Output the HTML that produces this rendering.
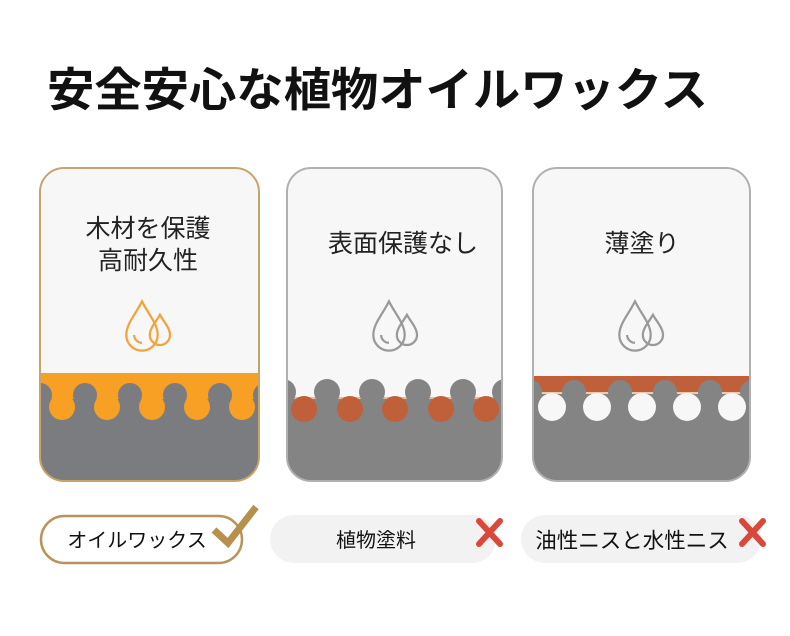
<!DOCTYPE html>
<html><head><meta charset="utf-8"><style>
body{margin:0;background:#fff;}
svg{display:block;font-family:"Liberation Sans","Noto Sans CJK JP",sans-serif;}
</style></head><body>
<svg width="790" height="636" viewBox="0 0 790 636" xmlns="http://www.w3.org/2000/svg">
<defs>
<clipPath id="c1"><rect x="40" y="168" width="219" height="313" rx="24"/></clipPath>
<clipPath id="c2"><rect x="287" y="168" width="215" height="313" rx="24"/></clipPath>
<clipPath id="c3"><rect x="533" y="168" width="217" height="313" rx="24"/></clipPath>
<g id="drop" fill="none" stroke-width="2">
<path d="M0,-22 C-6,-10 -14,-2 -14,8 A14,14 0 0 0 14,8 C14,-2 6,-10 0,-22Z"/>
<path d="M16,-10 C12,-3 7,2 7,8 A9,9 0 0 0 25,8 C25,2 20,-3 16,-10Z"/>
<path d="M-7,8 A7,7 0 0 0 0,15" />
</g>
</defs>
<text x="47" y="106" font-size="46" font-weight="bold" fill="#111" textLength="661" lengthAdjust="spacingAndGlyphs">安全安心な植物オイルワックス</text>

<!-- card1 -->
<g clip-path="url(#c1)">
<rect x="40" y="168" width="219" height="313" fill="#f7f7f7"/>
<rect x="40" y="373" width="219" height="28" fill="#f7a024"/>
<rect x="40" y="399" width="219" height="90" fill="#7b7c80"/>
<g fill="#7b7c80"><circle cx="40" cy="395" r="12"/><circle cx="85" cy="395" r="12"/><circle cx="130" cy="395" r="12"/><circle cx="175" cy="395" r="12"/><circle cx="220" cy="395" r="12"/><circle cx="265" cy="395" r="12"/></g>
<g fill="#f7a024"><circle cx="62" cy="407" r="13"/><circle cx="107" cy="407" r="13"/><circle cx="152" cy="407" r="13"/><circle cx="197" cy="407" r="13"/><circle cx="242" cy="407" r="13"/></g>
</g>
<rect x="40" y="168" width="219" height="313" rx="24" fill="none" stroke="#c8a46a" stroke-width="2"/>
<text x="148" y="237" font-size="25" text-anchor="middle" fill="#222">木材を保護</text>
<text x="148" y="269" font-size="25" text-anchor="middle" fill="#222">高耐久性</text>
<use href="#drop" transform="translate(142,326) scale(1.12)" stroke="#f2a33a"/>

<!-- card2 -->
<g clip-path="url(#c2)">
<rect x="287" y="168" width="215" height="313" fill="#f7f7f7"/>
<rect x="287" y="397" width="215" height="3" fill="#e8b89a"/>
<rect x="287" y="399" width="215" height="90" fill="#848484"/>
<g fill="#848484"><circle cx="283" cy="392" r="13"/><circle cx="327" cy="392" r="13"/><circle cx="372" cy="392" r="13"/><circle cx="418" cy="392" r="13"/><circle cx="463" cy="392" r="13"/><circle cx="505" cy="392" r="13"/></g>
<g fill="#c0603a"><circle cx="304" cy="409" r="13"/><circle cx="350" cy="409" r="13"/><circle cx="395" cy="409" r="13"/><circle cx="441" cy="409" r="13"/><circle cx="486" cy="409" r="13"/></g>
</g>
<rect x="287" y="168" width="215" height="313" rx="24" fill="none" stroke="#b0b0b0" stroke-width="2"/>
<text x="403" y="252" font-size="25" text-anchor="middle" fill="#222">表面保護なし</text>
<use href="#drop" transform="translate(389,326) scale(1.12)" stroke="#999"/>

<!-- card3 -->
<g clip-path="url(#c3)">
<rect x="533" y="168" width="217" height="313" fill="#f7f7f7"/>
<rect x="533" y="376" width="217" height="17" fill="#c0603a"/>
<rect x="533" y="392" width="217" height="3" fill="#eecab0"/>
<rect x="533" y="394" width="217" height="95" fill="#848484"/>
<g fill="#848484"><circle cx="530" cy="392" r="12"/><circle cx="574" cy="392" r="12"/><circle cx="620" cy="392" r="12"/><circle cx="665" cy="392" r="12"/><circle cx="710" cy="392" r="12"/><circle cx="752" cy="392" r="12"/></g>
<g fill="#f7f7f7"><circle cx="552" cy="407" r="14"/><circle cx="597" cy="407" r="14"/><circle cx="642" cy="407" r="14"/><circle cx="687" cy="407" r="14"/><circle cx="732" cy="407" r="14"/></g>
</g>
<rect x="533" y="168" width="217" height="313" rx="24" fill="none" stroke="#b0b0b0" stroke-width="2"/>
<text x="642" y="252" font-size="25" text-anchor="middle" fill="#222">薄塗り</text>
<use href="#drop" transform="translate(635,326) scale(1.12)" stroke="#999"/>

<!-- pills -->
<rect x="41" y="516" width="201" height="47" rx="23.5" fill="#fff" stroke="#b8945a" stroke-width="2.5"/>
<text x="137" y="547" font-size="20" text-anchor="middle" fill="#111">オイルワックス</text>
<path d="M214,530 L228,543 L256,507" fill="none" stroke="#b8904e" stroke-width="7" stroke-linejoin="miter"/>
<rect x="270" y="515" width="226" height="48" rx="24" fill="#f2f2f2"/>
<text x="376" y="547" font-size="20" text-anchor="middle" fill="#111">植物塗料</text>
<path d="M479,521 L500,544 M500,521 L479,544" stroke="#d9483a" stroke-width="6" stroke-linecap="round"/>
<rect x="521" y="515" width="240" height="48" rx="24" fill="#f2f2f2"/>
<text x="632" y="548" font-size="21.5" text-anchor="middle" fill="#111">油性ニスと水性ニス</text>
<path d="M742,521 L763,544 M763,521 L742,544" stroke="#d9483a" stroke-width="6" stroke-linecap="round"/>
</svg>
</body></html>
